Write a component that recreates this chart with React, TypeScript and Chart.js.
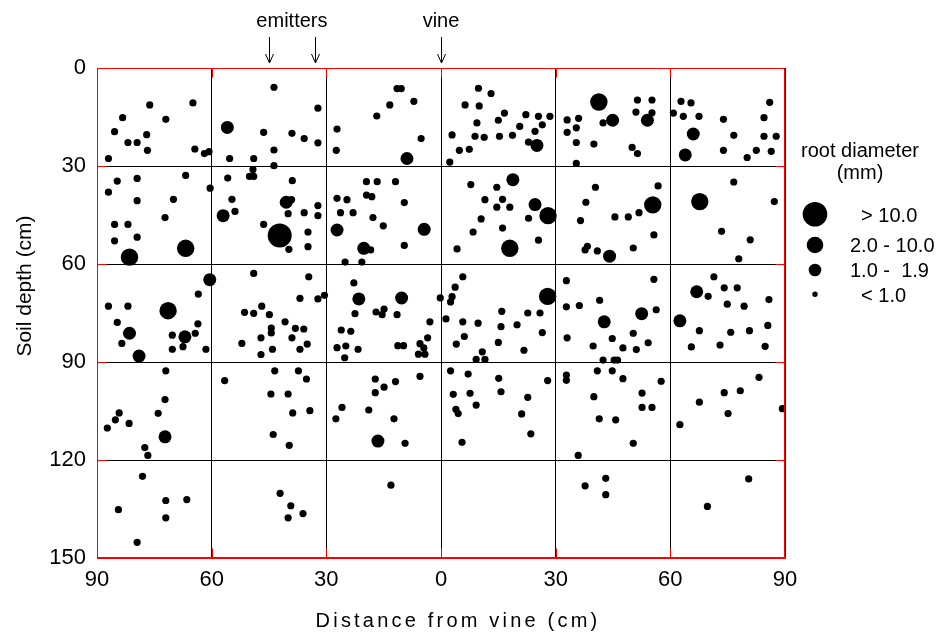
import React, { useEffect, useRef } from "react";
import { Chart, registerables } from "chart.js";

Chart.register(...registerables);

// Distance from vine (cm): negative = left of the vine, positive = right
const xTickValues = [-90, -60, -30, 0, 30, 60, 90];
const yTickValues = [0, 30, 60, 90, 120, 150];
const xGridValues = [-60, -30, 0, 30, 60];
const yGridValues = [30, 60, 90, 120];

const emitterPositions = [-45, -33];
const vinePosition = [0];

const legendTitle = ["root diameter", "(mm)"];
const legendLabels = ["  > 10.0", "2.0 - 10.0", "1.0 -  1.9", "  < 1.0"];

// [distance, depth]
const rootsOver10: [number, number][] = [[-42.2, 51.3]];

const roots2to10: [number, number][] = [
  [-66.8, 55.2], [-81.5, 57.9], [28.0, 45.2], [18.0, 55.2], [41.3, 10.4],
  [55.4, 41.9], [67.7, 40.9], [-71.4, 74.3], [27.9, 69.9],
];

const roots1to19: [number, number][] = [
  [-55.9, 18.2], [-57.0, 45.2], [-40.5, 41.1],
  [-8.9, 27.7], [25.1, 23.7], [-27.2, 49.6], [-4.4, 49.4], [-20.2, 55.2], [18.8, 34.2], [24.6, 41.8],
  [44.9, 16.0], [54.0, 16.0], [66.0, 20.2], [63.9, 26.6], [44.1, 57.6],
  [-60.5, 64.8], [-81.5, 81.2], [-79.0, 88.2], [-67.0, 82.3], [-72.2, 112.9],
  [-21.5, 70.7], [-10.3, 70.4], [-16.5, 114.2],
  [42.7, 77.7], [52.5, 75.2], [66.9, 68.5], [62.5, 77.4],
];

const rootsUnder1: [number, number][] = [
  // -90..-30, 0..60
  [-76.2, 11.3], [-64.9, 10.7], [-83.3, 15.2], [-72.0, 15.7], [-85.4, 19.5], [-81.9, 22.8], [-79.5, 22.8],
  [-77.0, 20.4], [-76.8, 25.2], [-87.0, 27.7], [-64.4, 24.8], [-61.9, 26.2], [-60.7, 25.6], [-43.7, 5.9],
  [-32.2, 12.3], [-46.4, 19.7], [-39.0, 20.0], [-35.8, 21.6], [-32.2, 22.9], [-43.7, 25.1], [-55.3, 27.7],
  [-49.0, 27.7], [-43.7, 29.9], [-49.2, 31.1], [-50.1, 33.2], [-49.0, 33.2], [-55.8, 33.7], [-38.9, 34.5],
  [-84.7, 34.6], [-79.5, 33.8], [-66.8, 32.9], [-87.0, 38.0], [-60.4, 36.8], [-79.5, 40.6], [-70.0, 40.2],
  [-54.7, 40.2], [-53.9, 43.9], [-72.2, 45.8], [-85.4, 47.9], [-81.9, 47.9], [-39.1, 40.3], [-40.0, 44.6],
  [-35.8, 44.3], [-32.2, 42.1], [-32.2, 45.2], [-46.4, 47.9], [-34.8, 50.2], [-34.8, 54.7], [-39.8, 55.5],
  [-85.4, 52.9], [-79.5, 51.8],
  // -30..30, 0..60
  [-11.5, 6.3], [-10.4, 6.3], [-13.4, 11.3], [-7.1, 10.2], [-16.8, 14.7], [-27.2, 18.7], [-27.4, 25.2],
  [-5.2, 21.6], [9.8, 6.2], [13.1, 7.8], [6.3, 11.3], [10.0, 11.6], [16.6, 13.8], [9.4, 16.8], [15.0, 16.0],
  [22.2, 14.3], [25.5, 14.8], [28.5, 14.8], [26.5, 17.4], [20.6, 17.9], [24.6, 19.4], [2.9, 20.5], [8.9, 20.9],
  [11.3, 21.2], [15.3, 20.9], [18.7, 20.6], [22.9, 22.7], [4.8, 25.2], [7.4, 24.9], [2.3, 28.8],
  [-19.5, 34.8], [-16.7, 34.8], [-11.9, 34.8], [-27.2, 39.9], [-24.6, 40.3], [-19.5, 38.9], [-18.1, 39.4],
  [-9.6, 41.2], [-26.3, 44.3], [-23.0, 44.3], [-17.8, 45.8], [-15.1, 48.3], [-18.4, 55.7], [-9.6, 54.3],
  [-25.1, 59.4], [-20.7, 59.4],
  [7.8, 35.7], [14.6, 36.5], [11.5, 40.3], [16.1, 40.2], [14.6, 42.6], [18.0, 42.6], [22.9, 46.0],
  [10.5, 46.2], [8.4, 50.2], [16.1, 49.0], [25.5, 52.7], [4.2, 55.4],
  // 30..90, 0..60
  [33.0, 15.9], [36.0, 15.4], [35.4, 18.3], [33.0, 19.7], [42.4, 16.8], [35.4, 22.8], [40.0, 23.3],
  [35.4, 29.2], [51.4, 9.8], [55.2, 9.8], [51.0, 13.5], [55.2, 13.7], [50.0, 24.3], [51.4, 26.2],
  [62.8, 10.2], [65.4, 10.7], [60.8, 13.8], [63.4, 14.8], [67.5, 14.8], [73.9, 15.7], [76.6, 20.6],
  [73.9, 25.2], [80.1, 27.4], [82.5, 25.2], [86.0, 10.5], [84.5, 15.2], [84.5, 20.9], [87.7, 20.9],
  [86.4, 25.5],
  [40.4, 36.5], [37.9, 41.1], [36.5, 46.7], [45.5, 45.6], [49.0, 45.6], [51.8, 44.3], [56.8, 36.1],
  [55.7, 51.1], [50.3, 55.1], [38.3, 54.6], [37.7, 55.7], [40.9, 56.0], [76.6, 34.9], [87.2, 40.9],
  [73.4, 50.0], [80.9, 52.6], [77.9, 58.4],
  // -90..-30, 60..120
  [-63.5, 69.2], [-87.0, 72.9], [-81.9, 72.9], [-84.7, 77.9], [-83.5, 84.3], [-70.3, 81.8], [-64.3, 81.2],
  [-63.6, 78.3], [-70.3, 86.1], [-67.5, 85.3], [-61.5, 86.1], [-49.0, 62.9], [-34.6, 63.9], [-36.9, 70.5],
  [-32.2, 70.7], [-30.5, 69.6], [-46.9, 72.9], [-51.4, 74.8], [-49.0, 75.1], [-44.9, 75.5], [-40.8, 77.7],
  [-44.4, 79.6], [-44.4, 81.1], [-38.1, 79.7], [-35.9, 79.9], [-47.1, 82.6], [-39.0, 82.6], [-52.1, 84.3],
  [-35.0, 84.5], [-47.1, 87.7], [-44.1, 86.1], [-36.9, 86.1],
  [-72.0, 92.7], [-56.6, 95.7], [-72.2, 101.5], [-74.0, 105.7], [-84.2, 105.6], [-85.2, 107.7],
  [-87.3, 110.2], [-81.6, 108.8], [-77.5, 116.2], [-76.7, 118.6], [-43.5, 92.7], [-37.3, 92.7],
  [-35.2, 95.2], [-44.5, 99.8], [-40.0, 99.8], [-38.8, 105.6], [-34.3, 104.9], [-43.9, 112.2], [-39.7, 115.5],
  // -30..30, 60..120
  [-22.8, 65.8], [-22.5, 75.2], [-17.0, 74.7], [-14.9, 73.8], [-15.4, 75.5], [-11.5, 75.5], [-2.9, 77.7],
  [-26.1, 80.2], [-23.6, 80.6], [-27.2, 85.6], [-24.9, 85.1], [-21.7, 86.1], [-25.2, 88.7], [-11.3, 85.0],
  [-9.8, 85.0], [-5.5, 84.4], [-4.5, 85.7], [-3.5, 82.6], [-5.9, 87.6], [-4.2, 87.6], [-0.2, 70.4],
  [2.5, 71.6], [2.9, 70.0], [3.7, 67.1], [5.7, 63.9], [1.3, 76.8], [5.7, 77.7], [9.7, 78.1], [15.9, 74.5],
  [15.7, 79.2], [19.9, 78.6], [22.7, 75.0], [25.9, 75.0], [26.5, 81.0], [6.1, 82.2], [4.0, 84.5],
  [15.0, 84.0], [21.7, 86.4], [10.8, 86.9], [9.2, 89.2], [11.5, 89.2],
  [-17.2, 95.2], [-14.9, 97.7], [-17.2, 99.4], [-11.9, 96.0], [-5.5, 94.4], [-25.9, 103.9], [-27.5, 107.4],
  [-18.9, 104.7], [-12.3, 107.4], [-9.4, 114.9], [2.5, 92.7], [7.1, 93.7], [15.1, 95.0], [15.7, 99.1],
  [27.9, 95.7], [3.2, 99.9], [7.6, 99.6], [9.2, 103.2], [3.9, 104.5], [4.5, 105.8], [22.7, 100.8],
  [21.1, 105.9], [23.5, 112.0], [5.5, 114.6],
  // 30..90, 60..120
  [32.8, 65.1], [32.8, 73.1], [36.2, 72.7], [41.5, 71.1], [33.0, 82.6], [39.8, 85.1], [44.8, 82.8],
  [47.6, 85.7], [50.3, 81.2], [51.1, 86.2], [55.7, 64.7], [56.3, 74.0], [54.2, 84.1], [42.4, 89.4],
  [45.3, 89.4], [46.2, 89.4], [71.4, 63.9], [69.9, 69.9], [74.1, 67.3], [77.5, 67.3], [74.9, 72.3],
  [79.3, 72.9], [85.8, 70.9], [67.6, 80.4], [75.8, 80.9], [80.7, 80.4], [85.5, 78.8], [65.5, 85.4],
  [73.0, 84.8], [84.8, 85.2],
  [40.9, 92.7], [44.8, 92.7], [32.8, 94.0], [32.8, 95.6], [47.6, 95.1], [57.6, 95.9], [40.0, 100.6],
  [52.6, 99.5], [52.6, 103.9], [55.2, 103.9], [41.4, 107.4], [45.7, 107.7], [50.3, 114.9], [35.9, 118.6],
  [83.2, 94.7], [78.3, 98.8], [74.1, 99.4], [67.6, 102.3], [75.1, 105.8], [62.5, 109.2], [89.3, 104.3],
  // 120..150
  [-78.1, 125.0], [-84.4, 135.2], [-72.0, 132.4], [-66.5, 132.1], [-72.0, 137.7], [-79.5, 145.2],
  [-42.1, 130.2], [-39.3, 134.0], [-40.0, 137.7], [-36.1, 136.4], [-13.1, 127.7], [43.1, 125.6],
  [37.7, 127.9], [43.1, 130.6], [80.5, 125.8], [69.7, 134.2],
];

const FONT = "'Liberation Sans', Arial, Helvetica, sans-serif";

const toPoints = (arr: [number, number][]) => arr.map(([x, y]) => ({ x, y }));

const overlayPlugin = {
  id: "overlay",
  afterDraw(chart: any) {
    const { ctx, chartArea: a, scales } = chart;
    const xs = scales.x;
    const ys = scales.y;
    const L = Math.round(a.left) + 0.5;
    const R = Math.round(a.right) - 0.5;
    const T = Math.round(a.top) + 0.5;
    const B = Math.round(a.bottom) - 0.5;
    ctx.save();
    // red frame + inner ticks
    ctx.strokeStyle = "#ff0000";
    ctx.lineWidth = 1;
    ctx.beginPath();
    ctx.rect(L, T, R - L, B - T);
    for (const v of xGridValues) {
      const px = Math.round(xs.getPixelForValue(v)) + 0.5;
      ctx.moveTo(px, T);
      ctx.lineTo(px, T + 9);
      ctx.moveTo(px, B);
      ctx.lineTo(px, B - 9);
    }
    for (const v of yGridValues) {
      const py = Math.round(ys.getPixelForValue(v)) + 0.5;
      ctx.moveTo(L, py);
      ctx.lineTo(L + 9, py);
      ctx.moveTo(R, py);
      ctx.lineTo(R - 9, py);
    }
    ctx.stroke();

    // annotations: emitters & vine
    ctx.fillStyle = "#000";
    ctx.strokeStyle = "#000";
    ctx.font = `20px ${FONT}`;
    ctx.textAlign = "center";
    ctx.textBaseline = "alphabetic";
    const arrow = (px: number) => {
      const x = Math.round(px) + 0.5;
      ctx.beginPath();
      ctx.moveTo(x, 37);
      ctx.lineTo(x, 63);
      ctx.moveTo(x - 4, 54);
      ctx.lineTo(x, 63);
      ctx.lineTo(x + 4, 54);
      ctx.stroke();
    };
    const emPx = emitterPositions.map((v) => xs.getPixelForValue(v));
    emPx.forEach(arrow);
    ctx.fillText("emitters", (emPx[0] + emPx[1]) / 2, 27);
    vinePosition.forEach((v) => {
      const px = xs.getPixelForValue(v);
      arrow(px);
      ctx.fillText("vine", px, 27);
    });

    // axis titles
    ctx.save();
    ctx.font = `21px ${FONT}`;
    ctx.translate(25, 286);
    ctx.rotate(-Math.PI / 2);
    ctx.textBaseline = "middle";
    ctx.fillText("Soil depth (cm)", 0, 0);
    ctx.restore();

    ctx.save();
    ctx.font = `20px ${FONT}`;
    (ctx as any).letterSpacing = "3.2px";
    ctx.textAlign = "center";
    ctx.textBaseline = "alphabetic";
    ctx.fillText("Distance from vine (cm)", 458, 627);
    ctx.restore();

    // legend
    ctx.font = `20px ${FONT}`;
    ctx.textAlign = "center";
    ctx.fillText(legendTitle[0], 860, 157);
    ctx.fillText(legendTitle[1], 860, 179);
    const radii = [12.3, 8.3, 6.3, 2.7];
    const ys2 = [214.3, 245, 270, 294.3];
    ctx.textAlign = "left";
    legendLabels.forEach((lab, i) => {
      ctx.beginPath();
      ctx.arc(815, ys2[i], radii[i], 0, Math.PI * 2);
      ctx.fill();
      ctx.fillText(lab, 850, ys2[i] + 7.3);
    });
    ctx.restore();
  },
};

export default function App() {
  const ref = useRef<HTMLCanvasElement | null>(null);
  useEffect(() => {
    if (!ref.current) return;
    const ds = (data: [number, number][], r: number) => ({
      data: toPoints(data),
      pointRadius: r,
      pointHoverRadius: r,
      pointBackgroundColor: "#000",
      pointBorderWidth: 0,
      borderWidth: 0,
      showLine: false,
    });
    const chart = new Chart(ref.current, {
      type: "scatter",
      data: {
        datasets: [
          ds(rootsUnder1, 3.6),
          ds(roots1to19, 6.5),
          ds(roots2to10, 8.7),
          ds(rootsOver10, 12),
        ],
      },
      options: {
        animation: false,
        responsive: false,
        devicePixelRatio: 1,
        events: [],
        layout: { padding: { top: 68, left: 0, right: 166, bottom: 0 } },
        plugins: { legend: { display: false }, tooltip: { enabled: false }, title: { display: false } },
        scales: {
          x: {
            type: "linear",
            min: -90,
            max: 90,
            afterFit: (s: any) => { s.height = 74; },
            afterBuildTicks: (s: any) => { s.ticks = xTickValues.map((v) => ({ value: v })); },
            grid: { color: "#000", lineWidth: 1, drawTicks: false },
            border: { display: true, color: "#ff0000" },
            ticks: {
              autoSkip: false,
              maxRotation: 0,
              padding: 9,
              color: "#000",
              font: { size: 22, family: FONT },
              callback: (v: any) => String(Math.abs(Number(v))),
            },
          },
          y: {
            type: "linear",
            min: 0,
            max: 150,
            reverse: true,
            afterFit: (s: any) => { s.width = 97; },
            afterBuildTicks: (s: any) => { s.ticks = yTickValues.map((v) => ({ value: v })); },
            grid: { color: "#000", lineWidth: 1, drawTicks: false },
            border: { display: true, color: "#ff0000" },
            ticks: {
              autoSkip: false,
              padding: 11,
              color: "#000",
              font: { size: 22, family: FONT },
            },
          },
        },
      },
      plugins: [overlayPlugin],
    } as any);
    return () => chart.destroy();
  }, []);
  return (
    <div style={{ position: "absolute", left: 0, top: 0, width: 951, height: 632, background: "#fff" }}>
      <canvas ref={ref} width={951} height={632} style={{ display: "block" }} />
    </div>
  );
}
